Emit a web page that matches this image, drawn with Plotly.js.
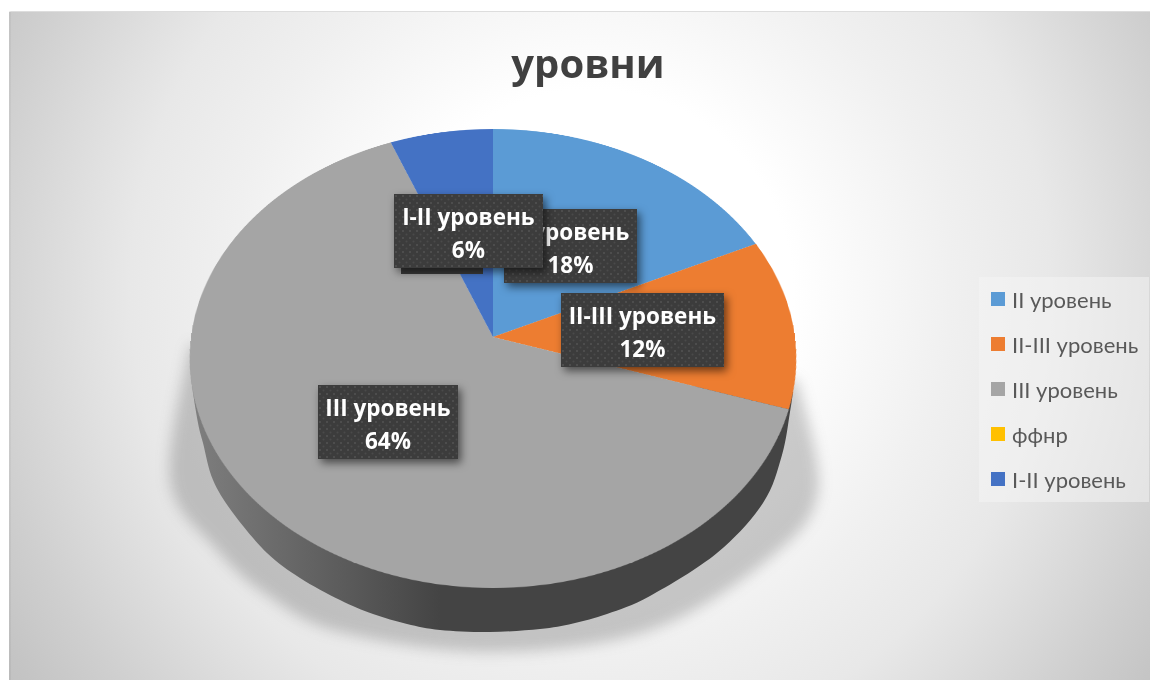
<!DOCTYPE html>
<html><head><meta charset="utf-8">
<script src="https://cdn.plot.ly/plotly-3.0.1.min.js"></script>
<style>
html,body{margin:0;padding:0;width:1152px;height:680px;overflow:hidden;background:#fff}
#bg{position:absolute;left:9px;top:11px;width:1141px;height:669px;
 background:radial-gradient(circle 720px at 580px 279px,#fff 0%,#fff 28%,#f0f0f0 50%,#e8e8e8 64%,#e0e0e0 71%,#cfcfcf 85%,#c4c4c4 95%,#c0c0c0 100%);
 border-top:1px solid #ddd;border-left:2px solid rgba(0,0,0,0.05);box-sizing:border-box}
.lay{position:absolute;left:0;top:0}
</style></head><body>
<div id="bg"></div>
<div id="base" class="lay" style="width:1152px;height:680px"></div>
<div id="pie" class="lay" style="width:800px;height:800px;transform-origin:0 0"></div>
<div id="over" class="lay" style="width:1152px;height:680px"></div>
<script>
const chartTitle = 'уровни';
const categories = ['II уровень','II-III уровень','III уровень','ффнр','I-II уровень'];
const values = [18,12,64,0,6];
const colors = ['#5B9BD5','#ED7D31','#A5A5A5','#FFC000','#4472C4'];
const boxOrder = [0,1,2,4];
const boxCenters = [[570.5,246],[642.5,330],[388,422],[468.5,231]];
const boxSizes = [[133,74],[163,74],[140,74],[149,74]];

const W=1152,H=680;
const px=x=>x/W, py=y=>1-y/H;
const cfg={staticPlot:true,displayModeBar:false};
const tr={paper_bgcolor:'rgba(0,0,0,0)',plot_bgcolor:'rgba(0,0,0,0)',margin:{l:0,r:0,t:0,b:0,pad:0},
 xaxis:{visible:false},yaxis:{visible:false}};
const NS='http://www.w3.org/2000/svg';

function addNode(parent,tag,attrs){
  const n=document.createElementNS(NS,tag);
  Object.keys(attrs).forEach(k=>n.setAttribute(k,attrs[k]));
  parent.appendChild(n);return n;
}
function smooth(p){
  let d='M'+px(p[0][0])+','+py(p[0][1]);
  for(let i=0;i<p.length-1;i++){
    const a=p[Math.max(i-1,0)],b=p[i],c=p[i+1],e=p[Math.min(i+2,p.length-1)];
    const c1=[b[0]+(c[0]-a[0])/6,b[1]+(c[1]-a[1])/6],c2=[c[0]-(e[0]-b[0])/6,c[1]-(e[1]-b[1])/6];
    d+='C'+px(c1[0])+','+py(c1[1])+' '+px(c2[0])+','+py(c2[1])+' '+px(c[0])+','+py(c[1]);
  }
  return d+'Z';
}
const rim=[[190,358],[192,385],[198,423],[203,443],[213,480],[233,513],[267,553],[300,578],[340,600],[373,614],[407,624],[440,630],[490,632],[540,629],[573,623.5],[607,614],[650,596],[717,553],[763,503],[782,455],[790,412],[793,392]];
const shade=[[190,345],[170,480],[217,550],[267,595],[340,632],[493,652],[650,630],[772,556],[818,490],[797,380]];

function styleBase(){
  const svg=document.querySelector('#base .main-svg');
  if(!svg.querySelector('#sideG')){
    const defs=svg.querySelector('defs')||addNode(svg,'defs',{});
    const lg=addNode(defs,'linearGradient',{id:'sideG',gradientUnits:'userSpaceOnUse',x1:190,y1:0,x2:440,y2:0});
    addNode(lg,'stop',{offset:'0','stop-color':'#7f7f7f'});
    addNode(lg,'stop',{offset:'0.6','stop-color':'#5c5c5c'});
    addNode(lg,'stop',{offset:'1','stop-color':'#444'});
  }
  document.querySelectorAll('#base path').forEach(p=>{
    const f=p.style.fill||'';
    if(f.indexOf('68, 68, 68')>=0||f.indexOf('#444')>=0||p.getAttribute('data-index')==='1'){p.style.fill='url(#sideG)';}
    else if(p.getAttribute('data-index')==='0'){p.style.filter='blur(7px)';}
  });
}
Plotly.newPlot('base',[],Object.assign({},tr,{width:W,height:H,
 shapes:[
  {type:'path',xref:'paper',yref:'paper',path:smooth(shade),fillcolor:'rgba(70,70,70,0.27)',line:{width:0}},
  {type:'path',xref:'paper',yref:'paper',path:smooth(rim),fillcolor:'#444',line:{width:0}}
 ]}),cfg).then(()=>{styleBase();setTimeout(styleBase,50);});

// perspective projection of the round pie
const r=400,g=-43/459,cxT=493,cyT=337,A=302,B=208*(1-g);
const wy=g/r, w0=1-g;
const m=[A/r,0,0,0,  cxT*wy,cyT*wy+B/r,0,wy,  0,0,1,0,  cxT*w0-A,cyT*w0-B,0,w0];
document.getElementById('pie').style.transform='matrix3d('+m.join(',')+')';
Plotly.newPlot('pie',[{type:'pie',labels:categories,values:values,sort:false,direction:'clockwise',rotation:0,
 marker:{colors:colors,line:{width:0}},textinfo:'none',hoverinfo:'skip',showlegend:false,automargin:false,
 domain:{x:[0,1],y:[0,1]}}],
 Object.assign({},tr,{width:800,height:800,showlegend:false}),cfg);

const annos=boxOrder.map((k,i)=>({xref:'paper',yref:'paper',x:px(boxCenters[i][0]),y:py(boxCenters[i][1]),
 xanchor:'center',yanchor:'middle',showarrow:false,
 text:categories[k]+'<br>'+values[k]+'%',align:'center',width:boxSizes[i][0],height:boxSizes[i][1],
 bgcolor:'#3b3b3b',borderpad:0,borderwidth:0,
 font:{family:'Open Sans',size:22.5,color:'#fff',weight:700}}));

Plotly.newPlot('over',[{type:'pie',labels:categories,values:values,sort:false,direction:'clockwise',
 marker:{colors:colors,line:{width:0}},textinfo:'none',hoverinfo:'skip',showlegend:true,automargin:false,
 domain:{x:[0.33,0.331],y:[0.37,0.371]}}],
 Object.assign({},tr,{width:W,height:H,showlegend:true,
 title:{text:chartTitle,x:px(588),y:py(64),xref:'paper',yref:'paper',xanchor:'center',yanchor:'middle',
  font:{family:'Open Sans',size:40,color:'#404040',weight:700}},
 legend:{x:px(979),y:py(277),xanchor:'left',yanchor:'top',bgcolor:'rgba(245,245,245,0.5)',borderwidth:0,
  font:{family:'Lato, Open Sans',size:22,color:'#595959'},traceorder:'normal'},
 annotations:annos,
 shapes:[{type:'rect',xref:'paper',yref:'paper',x0:px(401),x1:px(483),y0:py(268),y1:py(274),fillcolor:'#3b3b3b',line:{width:0}}]
 }),cfg).then(()=>{
  const svgs=document.querySelectorAll('#over .main-svg');
  svgs.forEach(s=>{
   const bgs=s.querySelectorAll('.annotation rect.bg');
   if(!bgs.length) return;
   const defs=s.querySelector('defs')||addNode(s,'defs',{});
   const pat=addNode(defs,'pattern',{id:'dots',patternUnits:'userSpaceOnUse',width:7,height:7});
   addNode(pat,'rect',{width:7,height:7,fill:'#3c3c3c'});
   addNode(pat,'circle',{cx:2,cy:2,r:1,fill:'#525252'});
   addNode(pat,'circle',{cx:5.5,cy:5.5,r:1,fill:'#4a4a4a'});
   bgs.forEach(b=>{b.style.fill='url(#dots)';b.style.filter='drop-shadow(3px 4px 4px rgba(0,0,0,0.55))';});
   s.querySelectorAll('.annotation-text').forEach(t=>{
     const lines=t.querySelectorAll('tspan.line');
     if(lines[1]){
       const y=parseFloat(lines[1].getAttribute('y'));
       if(!isNaN(y)){lines[1].setAttribute('y',y+4);}
     }
   });
  });
  const leg=document.querySelector('#over .legend');
  if(leg){
   leg.querySelectorAll('[clip-path]').forEach(n=>n.removeAttribute('clip-path'));
   const sb=leg.querySelector('.scrollbox'); if(sb){sb.style.clipPath='none';}
   leg.querySelectorAll('.traces').forEach((t,i)=>{
     t.setAttribute('transform','translate(-1,'+(22+i*45)+')');
     const tx=t.querySelector('.legendtext'); if(tx){tx.setAttribute('x',34);}
     t.querySelectorAll('.legendpoints path').forEach(p=>{
       const tf=p.getAttribute('transform')||'';
       p.setAttribute('transform',tf+' scale(1.17)');
     });
   });
   const bg=leg.querySelector('rect.bg');
   if(bg){bg.setAttribute('width',170);bg.setAttribute('height',225);bg.style.width='170px';bg.style.height='225px';}
  }
 });
</script>
</body></html>
